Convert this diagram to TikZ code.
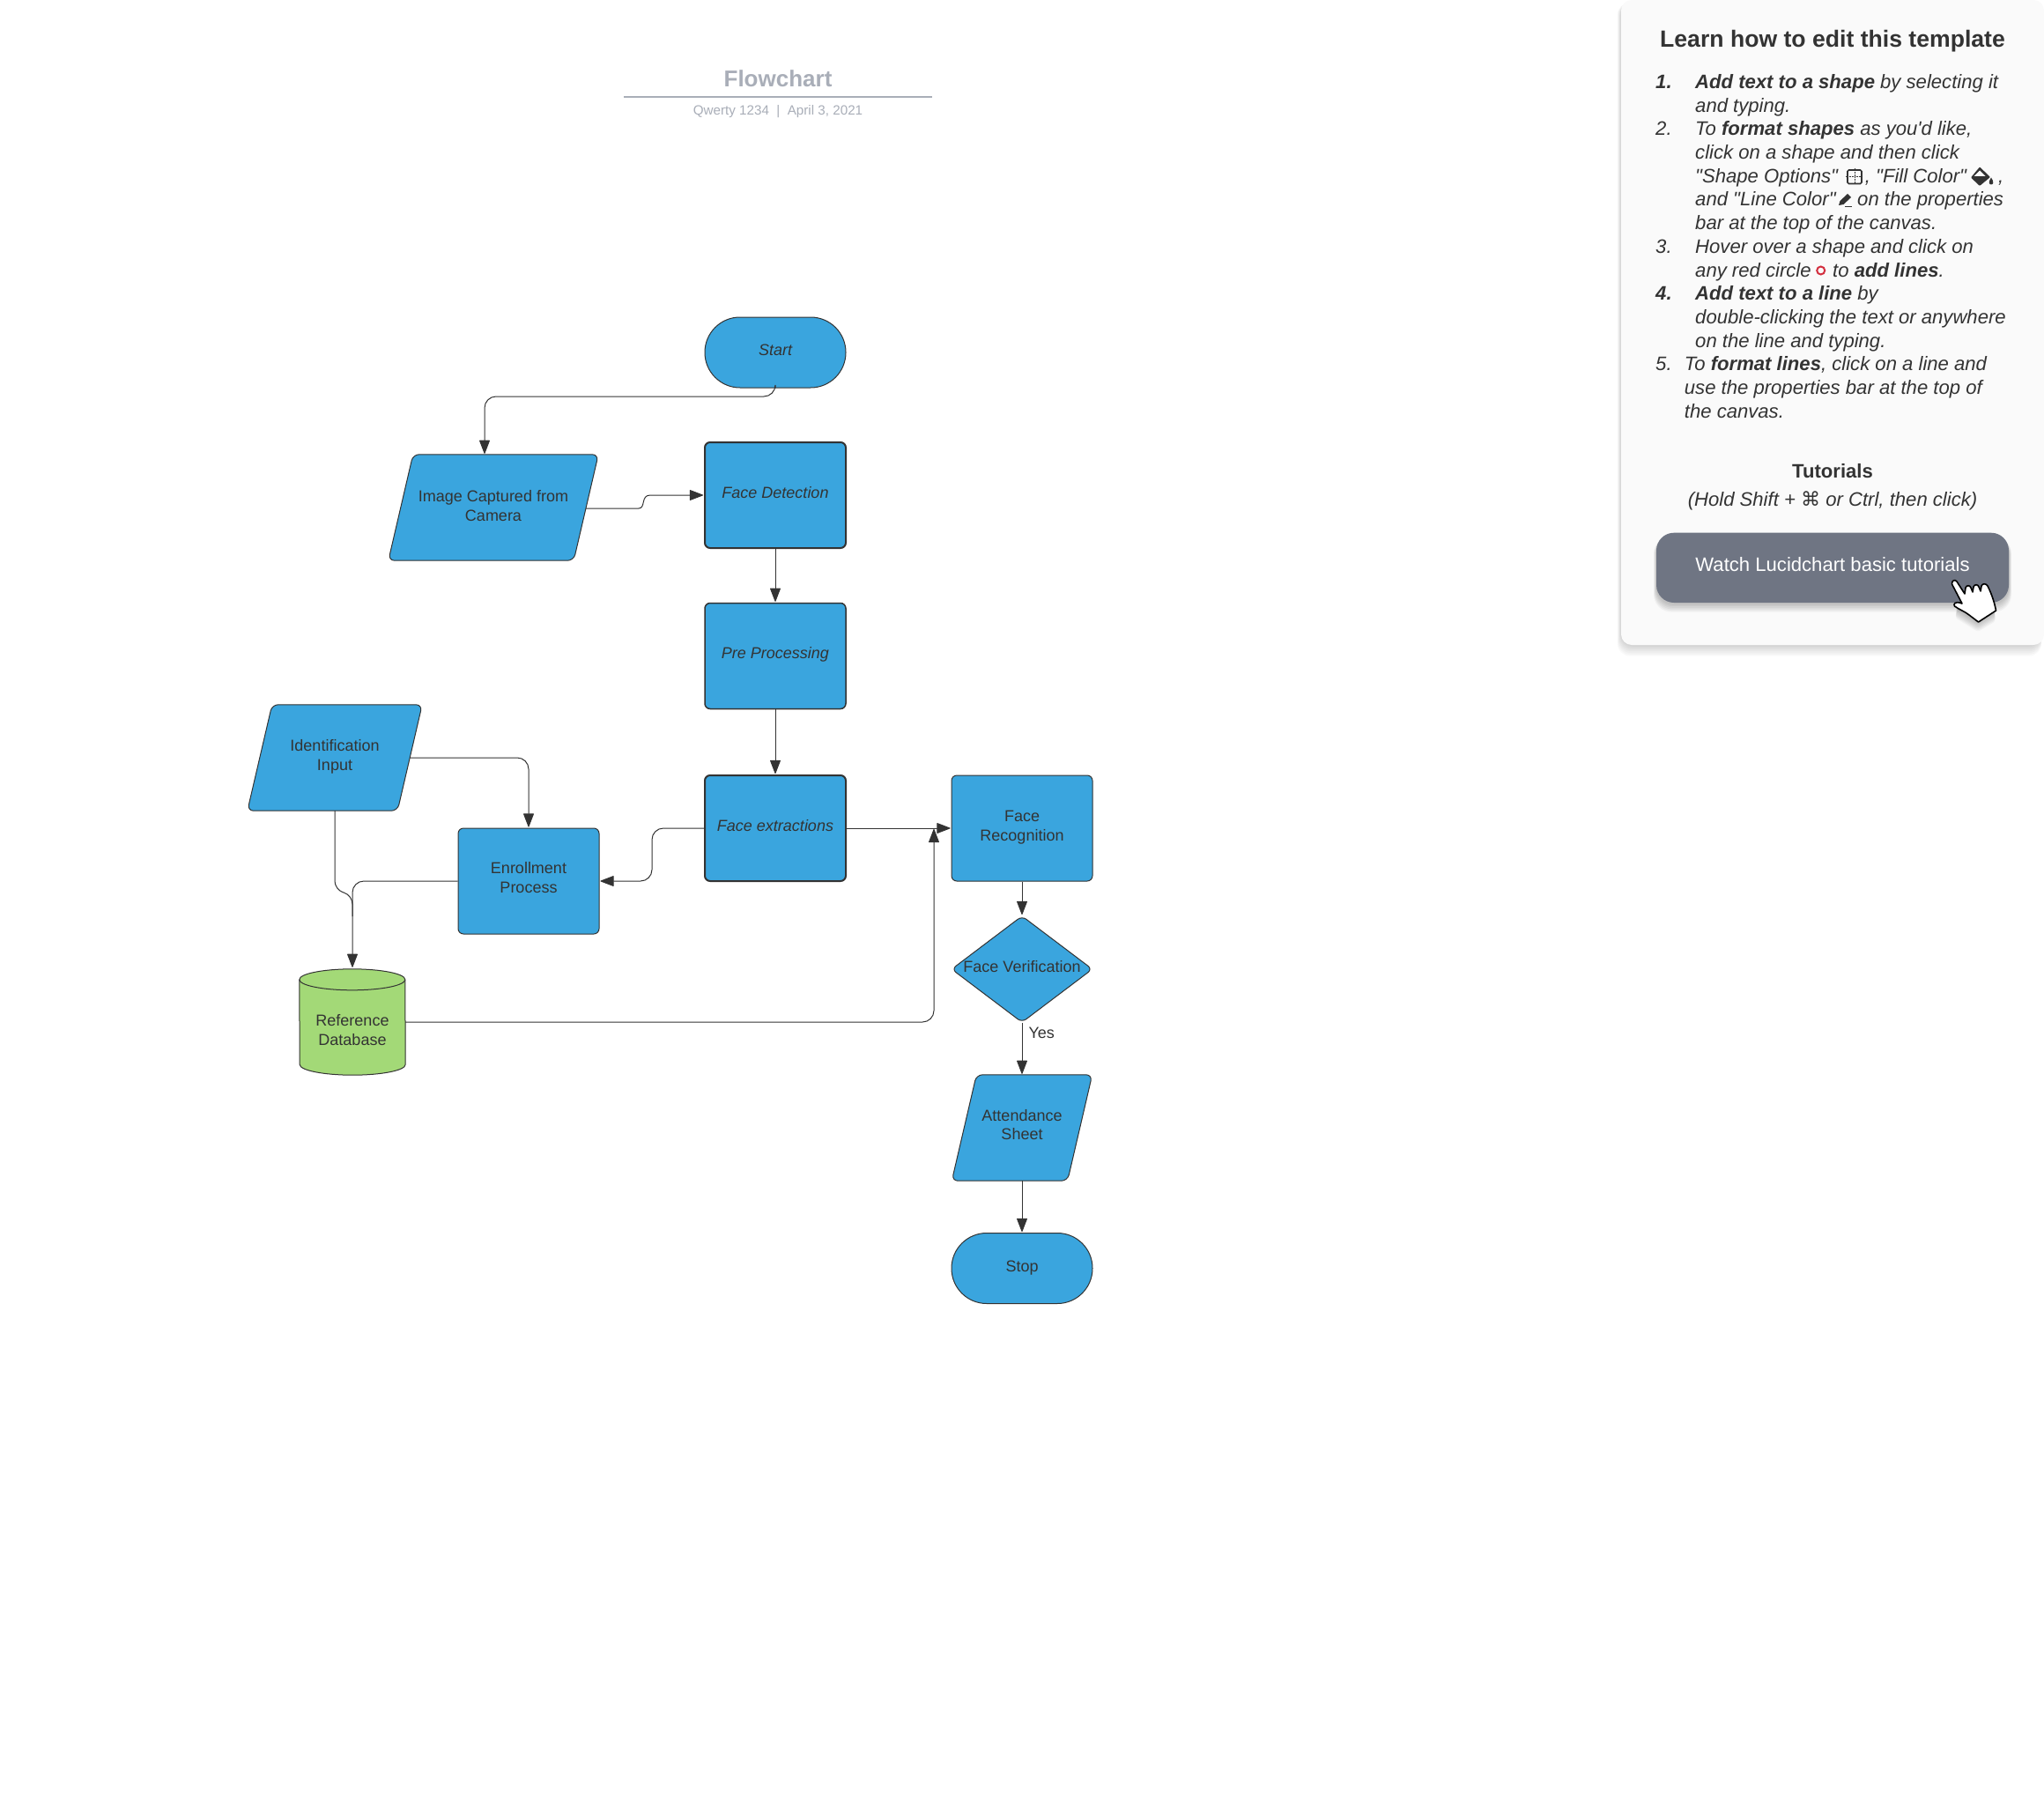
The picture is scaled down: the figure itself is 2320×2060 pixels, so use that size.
\documentclass[tikz,border=0pt]{standalone}
\usepackage{fontspec}
\setmainfont{Liberation Sans}[Ligatures=TeXOff]
\newfontfamily\symfont{DejaVu Sans}
\usetikzlibrary{arrows.meta,shapes.geometric,calc}
\definecolor{boxblue}{HTML}{3AA5DE}
\definecolor{dbgreen}{HTML}{A3D977}
\definecolor{ink}{HTML}{333333}
\definecolor{titlegrey}{HTML}{A9AEB8}
\definecolor{panelbg}{HTML}{FAFAFA}
\definecolor{btngrey}{HTML}{6F7583}
\definecolor{circlered}{HTML}{D32F3F}
\newcommand\paradraw[1]{%
  \draw[draw=ink,fill=boxblue,line width=1pt,rounded corners=7pt]
   ([xshift=14pt]#1.north east) -- ([xshift=14pt]#1.north west) -- ([xshift=-14pt]#1.south west) -- ([xshift=-14pt]#1.south east) -- cycle;}
\tikzset{
  x=1pt,y=-1pt,
  every node/.style={font=\fontsize{18}{21.5}\selectfont,text=ink,align=center,inner sep=0},
  flowbox/.style={draw=ink,fill=boxblue,line width=1pt,rounded corners=6pt,minimum width=160pt,minimum height=120pt},
  heavybox/.style={flowbox,line width=2pt},
  pill/.style={draw=ink,fill=boxblue,line width=1pt,rounded corners=39.9pt,minimum width=160pt,minimum height=80pt},
  paraanchor/.style={minimum height=120pt},
  diam/.style={draw=ink,fill=boxblue,line width=1pt,rounded corners=6pt,diamond,aspect=1.33,minimum width=160pt,minimum height=121pt},
  lab/.style={},
  conn/.style={draw=ink,line width=1pt,rounded corners=13pt,-{Triangle[length=16pt,width=12pt,round]}},
  panelline/.style={anchor=base west,font=\fontsize{22.1}{26}\selectfont,align=left},
  panelmid/.style={anchor=base,font=\fontsize{22.1}{26}\selectfont},
}
\begin{document}
\begin{tikzpicture}
\useasboundingbox (0,0) rectangle (2320,2060);
\fill[white] (0,0) rectangle (2320,2060);
% title
\node[anchor=base,font=\bfseries\fontsize{26}{32}\selectfont,text=titlegrey] (title) at (883,99) {Flowchart};
\coordinate (ruleL) at (708,110); \coordinate (ruleR) at (1058,110);
\draw[titlegrey,line width=1.6pt] (ruleL) -- (ruleR);
\node[anchor=base,font=\fontsize{15.2}{18}\selectfont,text=titlegrey] (sub) at (883,131) {Qwerty 1234\ \ |\ \ April 3, 2021};
% panel shadow
\foreach \s in {1,...,7}{
  \fill[black,opacity=.025,rounded corners=14pt] (1840-\s*.6,3) rectangle (2317,732+\s*1.8);
}
\fill[panelbg,rounded corners=12pt] (1840,0) rectangle (2320,732);
\node[anchor=base,font=\bfseries\fontsize{26.6}{30}\selectfont] (ptitle) at (2080,53.5) {Learn how to edit this template};
% list
\node[panelline] (n1) at (1879,100.7) {\bfseries\itshape 1.};
\node[panelline] (l1) at (1924,100.7) {\itshape\bfseries Add text to a shape \mdseries by selecting it};
\node[panelline] (l2) at (1924,127.3) {\itshape and typing.};
\node[panelline] (n2) at (1879,154) {\itshape 2.};
\node[panelline] (l3) at (1924,154) {\itshape To \bfseries format shapes \mdseries as you'd like,};
\node[panelline] (l4) at (1924,180.7) {\itshape click on a shape and then click};
\node[panelline] (l5) at (1924,207.3) {\itshape "Shape Options"};
\node[panelline] (l5b) at (2116.7,207.3) {\itshape , "Fill Color"};
\node[panelline] (l5c) at (2268,207.3) {\itshape ,};
\node[panelline] (l6) at (1924,234) {\itshape and "Line Color"};
\node[panelline] (l6b) at (2108,234) {\itshape on the properties};
\node[panelline] (l7) at (1924,260.7) {\itshape bar at the top of the canvas.};
\node[panelline] (n3) at (1879,287.3) {\itshape 3.};
\node[panelline] (l8) at (1924,287.3) {\itshape Hover over a shape and click on};
\node[panelline] (l9) at (1924,314) {\itshape any red circle};
\node[panelline] (l9b) at (2080,314) {\itshape to \bfseries add lines\mdseries.};
\node[panelline] (n4) at (1879,340.7) {\bfseries\itshape 4.};
\node[panelline] (l10) at (1924,340.7) {\itshape\bfseries Add text to a line \mdseries by};
\node[panelline] (l11) at (1924,367.3) {\itshape double-clicking the text or anywhere};
\node[panelline] (l12) at (1924,394) {\itshape on the line and typing.};
\node[panelline] (n5) at (1879,420.7) {\itshape 5.};
\node[panelline] (l13) at (1911.7,420.7) {\itshape To \bfseries format lines\mdseries, click on a line and};
\node[panelline] (l14) at (1911.7,447.3) {\itshape use the properties bar at the top of};
\node[panelline] (l15) at (1911.7,474) {\itshape the canvas.};
\node[panelmid,font=\bfseries\fontsize{22.1}{26}\selectfont] (tut) at (2080,542.7) {Tutorials};
\node[panelmid] (hold) at (2080,574.7) {\itshape (Hold Shift + {\symfont\upshape ⌘} or Ctrl, then click)};
% inline icons
\draw[ink,line width=1.7pt,rounded corners=1.5pt] (2097,193) rectangle (2113,208.5);
\draw[ink,line width=.6pt,densely dotted] (2097,200.7) -- (2113,200.7) (2105,193) -- (2105,208.5);
\draw[ink,line width=.7pt] (2095,200.7) -- (2098,200.7) (2105,191.5) -- (2105,194);
\fill[ink,rounded corners=1pt] (2247,189.5) -- (2259,201) -- (2247,211) -- (2237,201.5) -- cycle;
\fill[panelbg] (2247,193.5) -- (2253.5,200) -- (2240.5,200) -- cycle;
\fill[ink] (2260,201.5) .. controls (2256.5,206.5) and (2257.5,209.5) .. (2260,209.5) .. controls (2262.5,209.5) and (2263.5,206.5) .. (2260,201.5) -- cycle;
\fill[ink] (2087,233) -- (2088.5,228) -- (2097,220) -- (2101,224) -- (2092.5,232) -- cycle;
\draw[ink,line width=.6pt] (2094,234.5) -- (2102,234.5);
\draw[circlered,line width=2pt] (2066.7,307) circle (4.5pt);
% button
\foreach \s in {1,...,6}{
  \fill[black,opacity=.04,rounded corners=20pt] (1880-\s*.5,604.7+4) rectangle (2280+\s*.5,684+1+\s*1.6);
}
\fill[btngrey,rounded corners=20pt] (1880,604.7) rectangle (2280,684);
\node[panelmid,text=white] (btn) at (2080,648.7) {Watch Lucidchart basic tutorials};
% hand cursor
\foreach \s in {1,...,8}{
  \fill[black,opacity=.03,rounded corners=3pt] (2219,690+\s*1.4) -- (2245,706+\s*1.4) -- (2265,694+\s*1.4) -- (2262,684) -- (2225,684) -- cycle;
}
\draw[black,fill=white,line width=1.6pt,line join=round]
 (2215.5,663) .. controls (2215,659) and (2219,657) .. (2221,660)
 -- (2230,674) -- (2231,667) .. controls (2232,664) and (2236,664) .. (2237,667) -- (2239,672)
 -- (2240,666) .. controls (2241,663) and (2245,663) .. (2246,666) -- (2248,671)
 -- (2249,665) .. controls (2250,662) and (2254,662) .. (2256,665)
 .. controls (2261,675) and (2264,685) .. (2265.5,693)
 -- (2245.5,706) -- (2235,698) .. controls (2230,694) and (2224,692) .. (2218.5,688)
 .. controls (2216.5,685) and (2220,683) .. (2224,684) -- (2227,685) -- cycle;
% flow nodes
\node[pill] (start) at (880,400) {};
\node[lab] at ([yshift=3pt]start.center) {\itshape Start};
\node[paraanchor,minimum width=210pt] (img) at (560,576) {};
\paradraw{img}
\node[lab] at (560,574) {Image Captured from\\Camera};
\node[heavybox] (fd) at (880,562) {};
\node[lab] at ([yshift=3pt]fd.center) {\itshape Face Detection};
\node[flowbox,line width=1.5pt] (pp) at (880,744.5) {};
\node[lab] at ([yshift=2pt]pp.center) {\itshape Pre Processing};
\node[heavybox] (fe) at (880,940) {};
\node[lab] at ([yshift=3pt]fe.center) {\itshape Face extractions};
\node[flowbox] (fr) at (1160,940) {};
\node[lab] at ([yshift=1pt]fr.center) {Face\\Recognition};
\node[flowbox] (en) at (600,1000) {};
\node[lab] at ([yshift=4pt]en.center) {Enrollment\\Process};
\node[paraanchor,minimum width=170pt] (idn) at (380,860) {};
\paradraw{idn}
\node[lab] at (380,859) {Identification\\Input};
\node[diam] (fv) at (1160,1100) {};
\node[lab] at ([yshift=3pt]fv.center) {Face Verification};
\node[paraanchor,minimum width=131pt] (att) at (1160,1280) {};
\paradraw{att}
\node[lab] at (1160,1276.5) {Attendance\\Sheet};
\node[pill] (stop) at (1160,1439.5) {};
\node[lab] at ([yshift=0pt]stop.center) {Stop};
% database
\node[minimum width=120pt,minimum height=120pt] (db) at (400,1160) {};
\draw[ink,fill=dbgreen,line width=1pt]
  ($(db.north west)+(0,12)$) arc[start angle=180,end angle=0,x radius=60pt,y radius=12pt]
  -- ($(db.south east)+(0,-12)$) arc[start angle=0,end angle=-180,x radius=60pt,y radius=12pt] -- cycle;
\draw[ink,line width=1pt] ($(db.north west)+(0,12)$) arc[start angle=180,end angle=360,x radius=60pt,y radius=12pt];
\node[lab] at (400,1169) {Reference\\Database};
% connectors
\coordinate (startbend) at (880,450);
\draw[conn] (start.south) -- (startbend) -- (550,450) -- ([xshift=-10pt,yshift=1pt]img.north);
\draw[conn,rounded corners=0pt] ([yshift=-1pt]img.east) -- (725,577) .. controls (733,577) and (727,562) .. (738,562) -- ([xshift=-1pt]fd.west);
\draw[conn] (fd.south) -- ([yshift=1pt]pp.north);
\draw[conn] (pp.south) -- ([yshift=1pt]fe.north);
\draw[conn] (idn.east) -- (600,860) -- ([yshift=1pt]en.north);
\draw[draw=ink,line width=1pt,rounded corners=10pt] (idn.south) -- (380,1010) -- (400,1016) -- (400,1040);
\draw[conn] (en.west) -- (400,1000) -- ([yshift=2pt]db.north);
\draw[conn] (fe.west) -- (740,940) -- (740,1000) -- ([xshift=1pt]en.east);
\draw[conn,rounded corners=0pt] (fe.east) -- ([xshift=-1pt]fr.west);
\draw[conn] (db.east) -- (1060,1160) -- (1060,941);
\draw[conn] (fr.south) -- ([yshift=1pt]fv.north);
\draw[conn] (fv.south) -- node[pos=.2,right=7pt,anchor=west] (yes) {Yes} ([yshift=1pt]att.north);
\draw[conn] (att.south) -- ([yshift=1pt]stop.north);
\end{tikzpicture}
\end{document}
